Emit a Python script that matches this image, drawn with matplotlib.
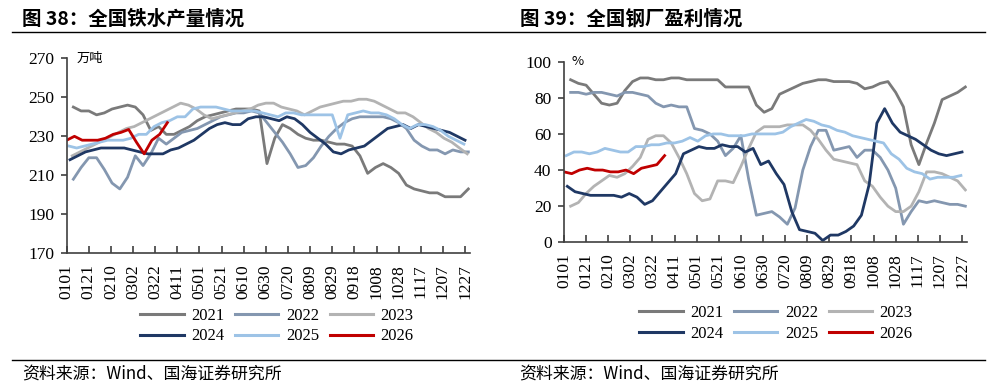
import numpy as np
import matplotlib
matplotlib.use('Agg')
import matplotlib.pyplot as plt
from matplotlib.lines import Line2D

# ---- data (weekly) ----
years = ['2021', '2022', '2023', '2024', '2025', '2026']
colors = ['#7a7a7a', '#8497b0', '#b3b3b3', '#1f3864', '#9dc3e6', '#c00000']

tick_labels = ['0101', '0121', '0210', '0302', '0322', '0411', '0501', '0521',
               '0610', '0630', '0720', '0809', '0829', '0918', '1008', '1028',
               '1117', '1207', '1227']
tick_days = [1, 21, 41, 61, 81, 101, 121, 141, 161, 181, 201, 221, 241, 261,
             281, 301, 321, 341, 361]

# 全国铁水产量 (万吨)
iron_start = [7, 7, 6, 4, 3, 1]
iron_2021 = [245, 243, 243, 241, 242, 244, 245, 246, 245, 241, 233, 235, 231,
             231, 233, 235, 238, 240, 241, 242, 243, 244, 244, 244, 243, 216,
             229, 236, 234, 231, 229, 228, 228, 227, 226, 226, 225, 220, 211,
             214, 216, 214, 211, 205, 203, 202, 201, 201, 199, 199, 199, 203]
iron_2022 = [208, 214, 219, 219, 213, 206, 203, 209, 220, 215, 221, 229, 226,
             229, 232, 233, 234, 236, 238, 240, 241, 242, 242, 243, 242, 237,
             232, 227, 221, 214, 215, 219, 225, 230, 234, 237, 239, 240, 240,
             240, 240, 239, 237, 234, 228, 225, 223, 223, 221, 223, 222, 222]
iron_2023 = [220, 222, 224, 226, 228, 230, 232, 234, 235, 237, 239, 241, 243,
             245, 247, 246, 244, 241, 239, 240, 241, 242, 243, 244, 246, 247,
             247, 245, 244, 243, 241, 243, 245, 246, 247, 248, 248, 249, 249,
             248, 246, 244, 242, 242, 240, 237, 234, 232, 229, 227, 224, 221]
iron_2024 = [218, 220, 222, 223, 224, 224, 224, 224, 223, 222, 221, 221, 221,
             223, 224, 226, 228, 231, 234, 236, 237, 236, 236, 239, 240, 240,
             239, 238, 240, 239, 236, 232, 229, 226, 222, 221, 223, 224, 225,
             228, 231, 234, 235, 236, 234, 236, 235, 234, 233, 232, 230, 228]
iron_2025 = [225, 224, 225, 226, 227, 228, 228, 228, 229, 231, 231, 235, 237,
             238, 240, 240, 244, 245, 245, 245, 244, 243, 243, 243, 243, 242,
             241, 240, 242, 242, 241, 241, 241, 241, 241, 229, 241, 242, 243,
             242, 242, 241, 239, 236, 234, 236, 236, 235, 233, 230, 228, 226]
iron_2026 = [228, 230, 228, 228, 228, 229, 231, 232, 233.5, 227, 221, 228, 231, 237]

# 全国钢厂盈利率 (%)
profit_start = [7, 7, 7, 4, 3, 1]
profit_2021 = [90, 88, 87, 82, 77, 76, 77, 84, 89, 91, 91, 90, 90, 91, 91, 90,
               90, 90, 90, 90, 86, 86, 86, 86, 76, 72, 74, 82, 84, 86, 88, 89,
               90, 90, 89, 89, 89, 88, 85, 86, 88, 89, 83, 75, 54, 43, 55, 66,
               79, 81, 83, 86]
profit_2022 = [83, 83, 82, 83, 83, 82, 81, 83, 83, 82, 81, 77, 75, 76, 75, 75,
               63, 62, 60, 56, 48, 52, 59, 35, 15, 16, 17, 14, 10, 19, 40, 53,
               62, 62, 51, 52, 53, 47, 51, 51, 47, 40, 30, 10, 17, 23, 22, 23,
               22, 21, 21, 20]
profit_2023 = [20, 22, 27, 31, 34, 37, 36, 38, 42, 47, 57, 59, 59, 55, 47, 38,
               27, 23, 24, 34, 34, 33, 42, 52, 61, 64, 64, 64, 65, 65, 65, 62,
               57, 51, 46, 45, 44, 43, 34, 31, 25, 20, 17, 17, 20, 28, 39, 39,
               38, 36, 34, 29]
profit_2024 = [31, 28, 27, 26, 26, 26, 26, 25, 27, 25, 21, 23, 28, 33, 38, 49,
               51, 53, 52, 52, 54, 53, 53, 50, 52, 43, 45, 38, 32, 17, 7, 6,
               5, 1, 4, 4, 6, 9, 15, 32, 66, 74, 66, 61, 59, 57, 54, 51, 49,
               48, 49, 50]
profit_2025 = [48, 50, 50, 49, 50, 52, 51, 50, 50, 53, 53, 54, 54, 55, 55, 56,
               58, 56, 59, 60, 60, 59, 59, 59, 60, 60, 60, 60, 61, 64, 66, 68,
               67, 65, 64, 62, 61, 59, 58, 57, 56, 55, 49, 46, 41, 39, 38, 35,
               36, 36, 36, 37]
profit_2026 = [39, 38, 40, 41, 40, 40, 39, 39, 40, 38, 41, 42, 43, 48]

iron_series = [iron_2021, iron_2022, iron_2023, iron_2024, iron_2025, iron_2026]
profit_series = [profit_2021, profit_2022, profit_2023, profit_2024,
                 profit_2025, profit_2026]

serif = 'Liberation Serif'
cjk = 'Noto Sans CJK SC'
W, H = 988, 392


def draw_panel(ax, series, starts, ylim, yticks, unit, unit_dx):
    for vals, start, c in zip(series, starts, colors):
        x = start + 7 * np.arange(len(vals))
        ax.plot(x, vals, color=c, lw=2.0, solid_joinstyle='round')
    ax.set_xlim(1, 365.5)
    ax.set_ylim(*ylim)
    ax.set_yticks(yticks)
    ax.set_xticks(tick_days)
    ax.set_xticklabels(tick_labels, rotation=90, fontfamily=serif, fontsize=12.5)
    for lab in ax.get_yticklabels():
        lab.set_fontfamily(serif)
        lab.set_fontsize(12.5)
    for s in ['top', 'right']:
        ax.spines[s].set_visible(False)
    for s in ['left', 'bottom']:
        ax.spines[s].set_color('#404040')
        ax.spines[s].set_linewidth(1.2)
    ax.tick_params(axis='y', direction='out', length=4, width=1.2,
                   color='#404040', pad=5)
    ax.tick_params(axis='x', direction='in', length=5, width=1.2,
                   color='#404040', pad=8)
    ax.text(unit_dx / (ax.get_position().width * W), 1.0, unit,
            transform=ax.transAxes, fontfamily=cjk, fontsize=9.5,
            va='center', ha='left')


fig = plt.figure(figsize=(W / 100, H / 100), dpi=100)

ax1 = fig.add_axes([66.7 / W, 1 - 253.3 / H, (470 - 66.7) / W, (253.3 - 58.3) / H])
draw_panel(ax1, iron_series, iron_start, (170, 270), range(170, 271, 20),
           '万吨', 10)

ax2 = fig.add_axes([564 / W, 1 - 242.3 / H, (967 - 564) / W, (242.3 - 61.7) / H])
draw_panel(ax2, profit_series, profit_start, (0, 100), range(0, 101, 20),
           '%', 8)

# titles
fig.text(22 / W, 1 - 19 / H, '图 38：全国铁水产量情况', fontfamily=cjk,
         fontsize=14, fontweight='bold', va='center', ha='left')
fig.text(520 / W, 1 - 19 / H, '图 39：全国钢厂盈利情况', fontfamily=cjk,
         fontsize=14, fontweight='bold', va='center', ha='left')

# rules under title and above source
fig.add_artist(Line2D([12 / W, 985 / W], [1 - 32 / H, 1 - 32 / H],
                      color='black', lw=1.0))
fig.add_artist(Line2D([12 / W, 985 / W], [1 - 360 / H, 1 - 360 / H],
                      color='black', lw=1.0))

# source notes
fig.text(22 / W, 1 - 374 / H, '资料来源：Wind、国海证券研究所', fontfamily=cjk,
         fontsize=12.2, va='center', ha='left')
fig.text(519 / W, 1 - 374 / H, '资料来源：Wind、国海证券研究所', fontfamily=cjk,
         fontsize=12.2, va='center', ha='left')

# legends: 3 columns filled row by row (2021 2022 2023 / 2024 2025 2026)
handles = [Line2D([], [], color=c, lw=2.2) for c in colors]
order = [0, 3, 1, 4, 2, 5]
for cx, cy in [(277, 326), (776, 323.5)]:
    fig.legend([handles[i] for i in order], [years[i] for i in order],
               loc='center', ncol=3,
               bbox_to_anchor=(cx / W, 1 - cy / H), frameon=False,
               prop={'family': serif, 'size': 12}, handlelength=2.6,
               handletextpad=0.45, columnspacing=0.65, labelspacing=0.3,
               borderpad=0)

fig.savefig('out.png', dpi=100)
